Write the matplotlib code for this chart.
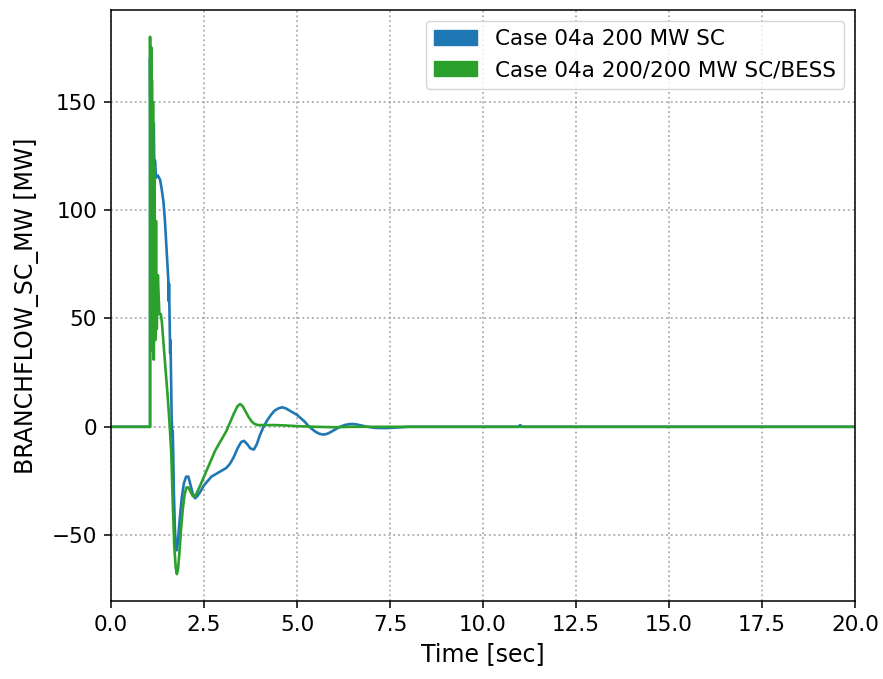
import matplotlib
matplotlib.use("Agg")
import matplotlib.pyplot as plt
from matplotlib.patches import Patch

labels = ["Case 04a 200 MW SC", "Case 04a 200/200 MW SC/BESS"]
colors = ["#1f77b4", "#2ca02c"]

t_sc = [0, 1.05, 1.05, 1.08, 1.10, 1.12, 1.15, 1.17, 1.18, 1.21, 1.26, 1.32, 1.36, 1.41, 1.45,
        1.50, 1.54, 1.55, 1.56, 1.58, 1.59, 1.60, 1.61, 1.63, 1.65, 1.66, 1.67, 1.69, 1.72,
        1.75, 1.77, 1.80, 1.84, 1.90, 1.96, 2.02, 2.08, 2.14, 2.20, 2.26, 2.32, 2.40, 2.50,
        2.60, 2.70, 2.80, 2.90, 3.00, 3.10, 3.20, 3.30, 3.40, 3.50, 3.58, 3.66, 3.75, 3.84,
        3.92, 4.00, 4.10, 4.20, 4.30, 4.40, 4.50, 4.60, 4.70, 4.80, 4.90, 5.00, 5.10, 5.20,
        5.30, 5.40, 5.50, 5.60, 5.70, 5.80, 5.90, 6.00, 6.10, 6.20, 6.30, 6.40, 6.50, 6.60,
        6.70, 6.90, 7.10, 7.40, 7.70, 8.00, 10.95, 11.0, 11.05, 20]
p_sc = [0, 0, 170, 60, 160, 80, 140, 110, 123, 115, 116, 114, 110, 104, 95,
        80, 68, 58, 66, 45, 34, 40, 28, 5, -5, -2, -10, -30, -48,
        -56, -57, -53, -44, -33, -26, -23, -23, -27, -31, -33, -32, -30, -27,
        -25, -23, -22, -21, -20, -19, -17, -14, -10, -7, -6.5, -8, -10, -10.5,
        -8, -4, 0, 3, 5.5, 7.5, 8.5, 9, 8.5, 7.5, 6.5, 5.5, 4, 2.5,
        0.5, -1, -2.3, -3.2, -3.6, -3.3, -2.5, -1.5, -0.5, 0.3, 0.9, 1.2, 1.3, 1.1,
        0.7, 0, -0.5, -0.6, -0.3, 0, 0, 0.8, 0, 0]

t_bess = [0, 1.05, 1.05, 1.07, 1.09, 1.11, 1.13, 1.15, 1.17, 1.19, 1.21, 1.23, 1.26, 1.30,
          1.34, 1.37, 1.45, 1.52, 1.58, 1.62, 1.66, 1.70, 1.74, 1.77, 1.80, 1.84, 1.88,
          1.93, 1.98, 2.03, 2.08, 2.14, 2.20, 2.26, 2.32, 2.40, 2.50, 2.60, 2.70, 2.80,
          2.90, 3.00, 3.10, 3.20, 3.30, 3.40, 3.47, 3.54, 3.62, 3.70, 3.78, 3.86, 3.95,
          4.10, 4.40, 4.70, 5.00, 5.50, 6.00, 6.50, 7.00, 20]
p_bess = [0, 0, 180, 60, 175, 35, 150, 31, 120, 40, 95, 45, 70, 52,
          52, 48, 30, 15, 0, -12, -35, -55, -65, -68, -66, -58, -48,
          -38, -31, -28, -28, -30, -32, -32, -30, -27, -23, -19, -15, -11,
          -8, -5, -2, 2, 6, 9.5, 10.5, 9.5, 7, 4.5, 2.5, 1.3, 0.8,
          0.8, 0.8, 0.6, 0.3, 0, -0.2, 0, 0, 0]

xticks = [0, 2.5, 5, 7.5, 10, 12.5, 15, 17.5, 20]

fig = plt.figure(figsize=(8.83, 6.79), dpi=100)
ax = fig.add_axes([0.1257, 0.1149, 0.8426, 0.8704])
ax.plot(t_sc, p_sc, color=colors[0], lw=1.9)
ax.plot(t_bess, p_bess, color=colors[1], lw=1.9)
ax.set_xlim(0, 20)
ax.set_xticks(xticks)
ax.grid(True, linestyle=':', color='gray', alpha=0.65, lw=1.3)
ax.tick_params(labelsize=15.5, length=5, width=1.1, pad=5)
for s in ax.spines.values():
    s.set_linewidth(1.1)
ax.set_xlabel("Time [sec]", fontsize=17, labelpad=5)
ax.set_ylabel("BRANCHFLOW_SC_MW [MW]", fontsize=17, labelpad=9)
handles = [Patch(color=c, label=l) for c, l in zip(colors, labels)]
ax.legend(handles=handles, loc='upper right', fontsize=15.5)
fig.savefig("out.png", dpi=100)
